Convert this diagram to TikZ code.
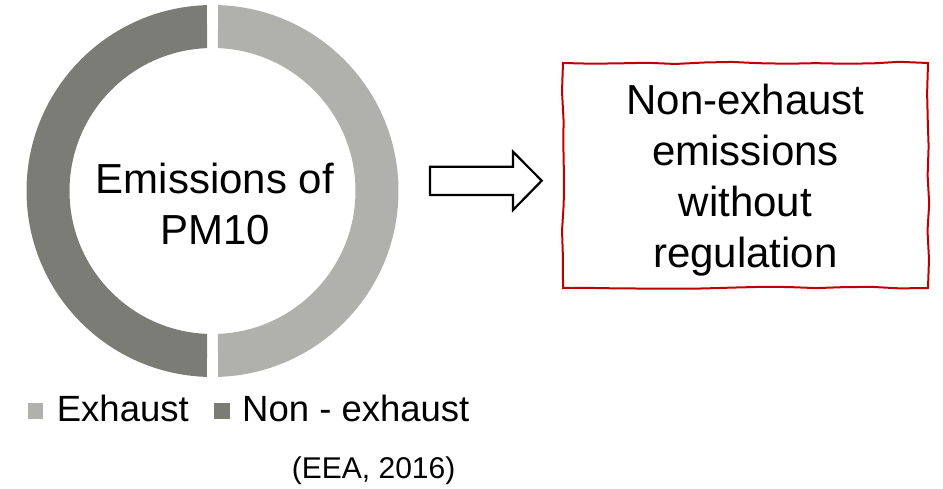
\documentclass[tikz,border=0pt]{standalone}
\usepackage{fontspec}
\setmainfont{Liberation Sans}
\usetikzlibrary{calc,decorations.pathmorphing}
\definecolor{exhaustgray}{RGB}{176,177,172}
\definecolor{nonexhaustgray}{RGB}{123,124,118}
\definecolor{notered}{RGB}{192,0,0}

\begin{document}
\begin{tikzpicture}[x=1pt,y=1pt,
  bigtext/.style={font=\fontsize{42}{51}\selectfont,align=center,inner sep=0pt},
  legtext/.style={font=\fontsize{36.5}{40}\selectfont,anchor=base west,inner sep=0pt},
  legbox/.style={minimum size=15.5pt,inner sep=0pt},
  notebox/.style={draw=notered,line width=2pt,minimum width=365pt,minimum height=225pt,
    decorate,decoration={random steps,segment length=28pt,amplitude=1.4pt}}]
  \pgfmathsetseed{11}
  \useasboundingbox (0,0) rectangle (943,488);
  % donut
  \coordinate (c) at (212.5,297);
  \fill[exhaustgray] ($(c)+(88.3:186)$) arc[start angle=88.3,end angle=-88.3,radius=186]
    -- ($(c)+(-87.8:143)$) arc[start angle=-87.8,end angle=87.8,radius=143] -- cycle;
  \fill[nonexhaustgray] ($(c)+(91.7:186)$) arc[start angle=91.7,end angle=268.3,radius=186]
    -- ($(c)+(267.8:143)$) arc[start angle=267.8,end angle=92.2,radius=143] -- cycle;
  \node[bigtext] (pm) at (215,284.5) {Emissions of\\PM10};
  % arrow
  \draw[line width=2.2pt,line join=miter] (430,321.3) -- (513,321.3) -- (513,336.3)
    -- (541.7,307.3) -- (513,278) -- (513,293) -- (430,293) -- cycle;
  % note
  \node[notebox] (box) at (745.5,312.5) {};
  \node[bigtext] (note) at (745.5,308) {Non-exhaust\\emissions\\without\\regulation};
  % legend
  \node[legbox,fill=exhaustgray] (lex) at (35.5,77) {};
  \node[legtext] (tex) at (56.7,66.3) {Exhaust};
  \node[legbox,fill=nonexhaustgray] (lnon) at (222,77) {};
  \node[legtext] (tnon) at (242,66.3) {Non - exhaust};
  \node[font=\fontsize{30}{36}\selectfont,anchor=base west,inner sep=0pt] (src) at (291.7,9.7) {(EEA, 2016)};
\end{tikzpicture}
\end{document}
